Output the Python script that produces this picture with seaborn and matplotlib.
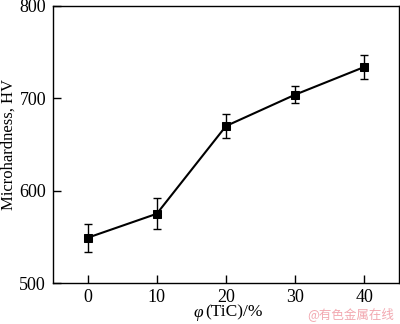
import matplotlib
matplotlib.use("Agg")
import matplotlib.pyplot as plt
import seaborn as sns
import pandas as pd

# TiC volume fraction (%) and measured microhardness (HV)
tic_fraction = [0, 10, 20, 30, 40]
microhardness = [549, 575, 670, 704, 734]
hardness_err = [15, 17, 13, 9, 13]

x_ticks = [0, 10, 20, 30, 40]
y_ticks = [500, 600, 700, 800]

sns.set_theme(style="ticks")
plt.rcParams["font.family"] = ["Liberation Serif", "DejaVu Serif"]

df = pd.DataFrame({"tic": tic_fraction, "hv": microhardness, "err": hardness_err})

fig = plt.figure(figsize=(4.0, 3.24), dpi=100)
ax = fig.add_axes([0.1325, 0.1265, 0.865, 0.855])

ax.errorbar(df["tic"], df["hv"], yerr=df["err"], fmt="none", ecolor="black",
            elinewidth=1.0, capsize=3, capthick=1.0, zorder=2)
sns.lineplot(data=df, x="tic", y="hv", ax=ax, color="black", linewidth=1.5,
             marker="s", markersize=6, markeredgecolor="black",
             markerfacecolor="black", zorder=3)

ax.set_xlim(-5, 45)
ax.set_ylim(500, 800)
ax.set_xticks(x_ticks)
ax.set_yticks(y_ticks)
ax.tick_params(direction="in", length=6, width=1, labelsize=13, colors="black",
               top=False, right=False, pad=5)
ax.tick_params(axis="x", pad=4)
for spine in ax.spines.values():
    spine.set_visible(True)
    spine.set_linewidth(1.0)
    spine.set_color("black")

# x-axis title: italic phi followed by upright "(TiC)/%"
ax.set_xlabel("")
ax.text(0.433, -0.078, "φ", transform=ax.transAxes, ha="right", va="top",
        fontsize=12.5, style="italic", color="black")
ax.text(0.440, -0.078, "(TiC)/%", transform=ax.transAxes, ha="left", va="top",
        fontsize=12.5, color="black")
ax.set_ylabel("Microhardness, HV", fontsize=12, color="black")
ax.yaxis.set_label_coords(-0.104, 0.5)

fig.text(0.985, 0.008, "@有色金属在线", ha="right", va="bottom", fontsize=9,
         color="#f2a8b0", family=["Noto Sans CJK SC", "DejaVu Sans"])

fig.savefig("out.png", dpi=100)
